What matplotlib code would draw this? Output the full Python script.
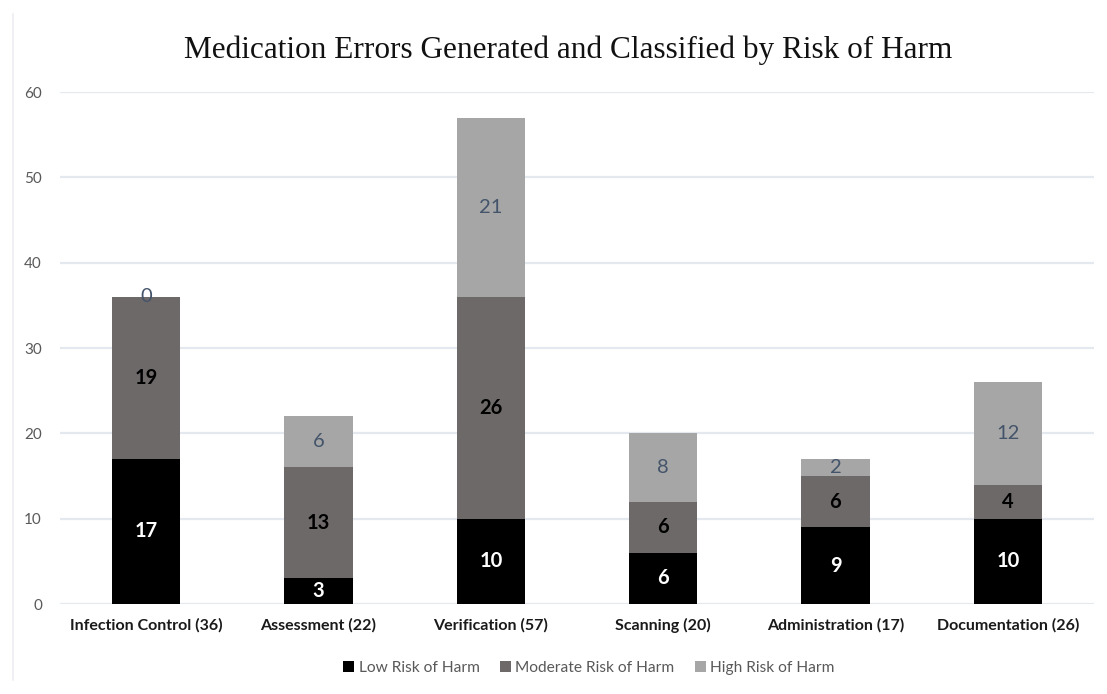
import matplotlib
matplotlib.use("Agg")
import matplotlib.pyplot as plt
import numpy as np

categories = ["Infection Control (36)", "Assessment (22)", "Verification (57)",
              "Scanning (20)", "Administration (17)", "Documentation (26)"]
low = [17, 3, 10, 6, 9, 10]
moderate = [19, 13, 26, 6, 6, 4]
high = [0, 6, 21, 8, 2, 12]
series_names = ["Low Risk of Harm", "Moderate Risk of Harm", "High Risk of Harm"]
yticks = [0, 10, 20, 30, 40, 50, 60]

colors = ["#000000", "#6e6969", "#a6a6a6"]
label_colors = ["white", "black", "#44546a"]
label_weights = ["bold", "bold", "normal"]

plt.rcParams['font.family'] = ['Lato', 'DejaVu Sans']

fig = plt.figure(figsize=(11.07, 6.94), dpi=100)
ax = fig.add_axes([60/1107, 1-604/694, (1094-60)/1107, (604-92)/694])

x = np.arange(len(categories))
w = 0.395
bottom = np.zeros(len(categories))
for vals, c, name, lc, lw in zip([low, moderate, high], colors, series_names, label_colors, label_weights):
    vals = np.array(vals, dtype=float)
    ax.bar(x, vals, w, bottom=bottom, color=c, label=name, zorder=3)
    for xi, b, v in zip(x, bottom, vals):
        ypos = b + v / 2 if v > 0 else b
        ax.text(xi, ypos, f"{int(v)}", ha="center", va="center", color=lc,
                fontsize=14.5, fontweight=lw, zorder=4)
    bottom += vals

ax.set_xlim(-0.5, len(categories) - 0.5)
ax.set_ylim(0, 60)
ax.set_yticks(yticks)
ax.set_yticklabels([str(t) for t in yticks], color="#595959", fontsize=11)
ax.set_xticks(x)
ax.set_xticklabels(categories, fontsize=11.5, fontweight="bold", color="#1a1a1a")
ax.tick_params(axis="both", length=0)
ax.tick_params(axis="y", pad=13)
ax.tick_params(axis="x", pad=10)
ax.grid(axis="y", color="#e4e8ef", linewidth=1.6, zorder=0)
for s in ax.spines.values():
    s.set_visible(False)

fig.text(568/1107, 1-50/694, "Medication Errors Generated and Classified by Risk of Harm",
         ha="center", va="center", fontsize=22.5, family="Liberation Serif", color="#111111")

handles, labels = ax.get_legend_handles_labels()
fig.legend(handles, labels, loc="center", bbox_to_anchor=(589/1107, 1-668/694), ncol=3,
           frameon=False, fontsize=11.2, handlelength=0.7, handleheight=0.7,
           handletextpad=0.3, columnspacing=1.3, labelcolor="#595959")

fig.add_artist(plt.Line2D([13/1107, 13/1107], [0.02, 0.98], color="#eceef2", linewidth=1.2))

fig.savefig("out.png", dpi=100, facecolor="white")
